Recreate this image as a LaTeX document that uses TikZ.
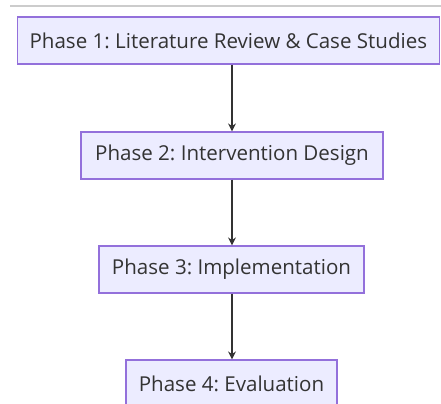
\documentclass[tikz,border=0pt]{standalone}
\usepackage{fontspec}
\setmainfont{Open Sans}
\usetikzlibrary{arrows.meta}
\definecolor{phasefill}{HTML}{ECECFF}
\definecolor{phaseline}{HTML}{9370DB}
\definecolor{flowline}{HTML}{333333}
\definecolor{rulegray}{HTML}{CCCCCC}
\begin{document}
\frenchspacing
\begin{tikzpicture}[x=0.75pt,y=-0.75pt,
  phase/.style={draw=phaseline,fill=phasefill,line width=0.9pt,
    minimum height=35.25pt,inner sep=0pt,font=\fontsize{15.4}{18}\selectfont,text=flowline},
  flow/.style={draw=flowline,line width=1.5pt,-{Stealth[length=6pt,width=6pt]}}]
  \useasboundingbox (0,0) rectangle (441,403);
  \clip (0,0) rectangle (441,403);
  \draw[rulegray,line width=0.9pt] (10,6) -- (441,6);
  \node[phase,anchor=west,inner xsep=9pt] (p1) at (17,40.5)
    {Phase 1: Literature Review \& Case Studies\hspace{12pt}};
  \node[phase,minimum width=226.5pt] (p2) at (232,155.5) {Phase 2: Intervention Design};
  \node[phase,minimum width=198.75pt] (p3) at (231.5,269.5) {Phase 3: Implementation};
  \node[phase,minimum width=158.25pt] (p4) at (231.5,383.5) {Phase 4: Evaluation};
  \draw[flow] (p1.south -| p2.north) -- (p2.north);
  \draw[flow] (p2.south) -- (p2.south |- p3.north);
  \draw[flow] (p2.south |- p3.south) -- (p2.south |- p4.north);
\end{tikzpicture}
\end{document}
